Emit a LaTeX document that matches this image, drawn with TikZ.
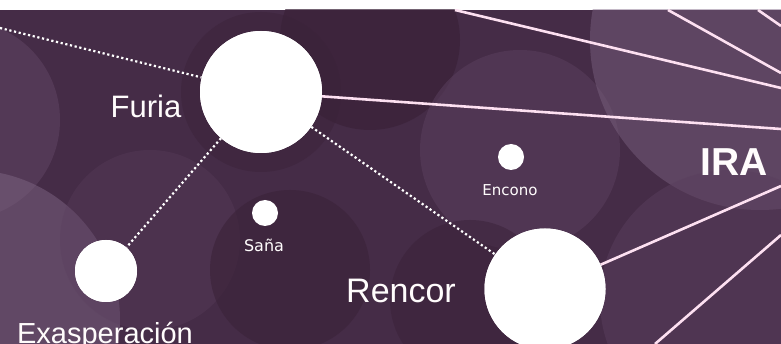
\documentclass[tikz,border=0pt]{standalone}
\usepackage{fontspec}
\setmainfont{Liberation Sans}
\newfontfamily\smallfont{DejaVu Sans}
\begin{document}
\begin{tikzpicture}[x=1pt,y=-1pt,
  bigdot/.style={circle,fill=white,draw=none,inner sep=0pt},
  lbl/.style={text=white!95!pink,inner sep=0pt,anchor=base},
  solidline/.style={draw=white!88!magenta,line width=2.6pt},
  dotline/.style={draw=white,line width=2.2pt,dash pattern=on 2.2pt off 2.6pt}]
\definecolor{bgdark}{HTML}{3A2238}
\definecolor{bgbase}{HTML}{452C47}
\definecolor{bgmid}{HTML}{5A3F5D}
\definecolor{bglight}{HTML}{7E6583}
\useasboundingbox (0,0) rectangle (781,344);
\fill[white] (0,0) rectangle (781,344);
\begin{scope}
\clip (0,10) rectangle (781,344);
\fill[bgbase] (0,10) rectangle (781,344);
% background blobs
\fill[bgmid,opacity=0.7] (-40,120) circle (100);
\fill[bglight,opacity=0.5] (-30,320) circle (150);
\fill[bgdark,opacity=0.7] (370,40) circle (90);
\fill[bgmid,opacity=0.55] (520,150) circle (100);
\fill[bglight,opacity=0.45] (760,40) circle (170);
\fill[bgmid,opacity=0.5] (730,300) circle (130);
\fill[bgmid,opacity=0.35] (150,240) circle (90);
\fill[bgdark,opacity=0.6] (290,270) circle (80);
\fill[bgdark,opacity=0.5] (470,300) circle (80);
\fill[bgdark,opacity=0.45] (261,92) circle (80);
% nodes
\node[bigdot,minimum size=122] (furia) at (261,92) {};
\node[bigdot,minimum size=62] (exas) at (106,271) {};
\node[bigdot,minimum size=26] (sana) at (265,213) {};
\node[bigdot,minimum size=26] (encono) at (511,157) {};
\node[bigdot,minimum size=121] (rencor) at (545,289) {};
\coordinate (dl) at (0,28);
\coordinate (r1) at (781,129);
\coordinate (t1a) at (455,10);
\coordinate (t1b) at (781,88);
\coordinate (t2a) at (668,10);
\coordinate (t2b) at (781,73);
\coordinate (t3a) at (758,10);
\coordinate (t3b) at (781,26);
\coordinate (r2) at (781,186);
\coordinate (b1a) at (655,344);
\coordinate (b1b) at (781,235);
% connectors
\draw[dotline] (dl) -- (furia);
\draw[dotline] (furia) -- (rencor);
\draw[dotline] (furia) -- (exas);
\draw[solidline] (furia) -- (r1);
\draw[solidline] (t1a) -- (t1b);
\draw[solidline] (t2a) -- (t2b);
\draw[solidline] (t3a) -- (t3b);
\draw[solidline] (rencor) -- (r2);
\draw[solidline] (b1a) -- (b1b);
\node[bigdot,minimum size=122] at (furia) {};
\node[bigdot,minimum size=121] at (rencor) {};
\node[bigdot,minimum size=62] at (exas) {};
% labels
\node[lbl,font=\fontsize{31}{31}\selectfont] (lfuria) at (146,118) {Furia};
\node[lbl,font=\fontsize{34}{34}\selectfont] (lrencor) at (401,302) {Rencor};
\node[lbl,font=\fontsize{39}{39}\selectfont\bfseries] (lira) at (734,176) {IRA};
\node[lbl,font=\smallfont\fontsize{16}{16}\selectfont] (lsana) at (264,252) {Saña};
\node[lbl,font=\smallfont\fontsize{15}{15}\selectfont] (lencono) at (510,196) {Encono};
\node[lbl,font=\fontsize{29}{29}\selectfont] (lexas) at (105,343) {Exasperación};
\end{scope}
\end{tikzpicture}
\end{document}
